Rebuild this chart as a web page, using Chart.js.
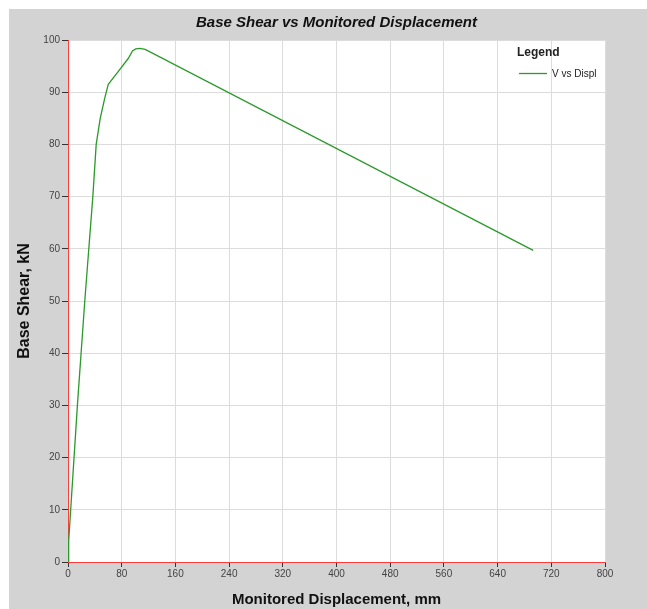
<!DOCTYPE html>
<html>
<head>
<meta charset="utf-8">
<script src="https://cdn.jsdelivr.net/npm/chart.js@4"></script>
<style>
  html, body { margin: 0; padding: 0; background: #fff; }
  canvas { display: block; }
</style>
</head>
<body>
<canvas id="pushover-chart" width="647" height="609"></canvas>
<script>
// Pushover curve: base shear vs monitored displacement
const dispValues = [0, 1, 4, 9, 14, 19.5, 25, 31, 37, 42, 48, 55, 60, 75, 90, 96, 101, 107, 115, 693];
const shearValues = [0, 4, 10, 20, 30, 40, 50, 60, 70, 80, 85, 89, 91.5, 94, 96.5, 97.9, 98.3, 98.4, 98.2, 59.7];
const xTicks = [0, 80, 160, 240, 320, 400, 480, 560, 640, 720, 800];
const yTicks = [0, 10, 20, 30, 40, 50, 60, 70, 80, 90, 100];

const seriesLabel = 'V vs Displ';
const titleText = 'Base Shear vs Monitored Displacement';
const xTitle = 'Monitored Displacement, mm';
const yTitle = 'Base Shear, kN';

const FONT = '"Liberation Sans", Arial, sans-serif';
const LINE_GREEN = '#2a9a2a';

const points = dispValues.map((x, i) => ({ x, y: shearValues[i] }));

// gray frame + white plot area + title centred over the plot
const backdrop = {
  id: 'backdrop',
  beforeDraw(chart) {
    const { ctx, chartArea: a } = chart;
    ctx.save();
    ctx.fillStyle = '#fff';
    ctx.fillRect(0, 0, chart.width, chart.height);
    ctx.fillStyle = '#d3d3d3';
    ctx.fillRect(9, 9, chart.width - 9, chart.height - 9);
    ctx.fillStyle = '#fff';
    ctx.fillRect(a.left, a.top, a.right - a.left, a.bottom - a.top);

    ctx.fillStyle = '#111';
    ctx.font = 'italic bold 15px ' + FONT;
    ctx.textAlign = 'center';
    ctx.textBaseline = 'middle';
    ctx.fillText(titleText, (a.left + a.right) / 2, 22.5);
    ctx.restore();
  }
};

// legend drawn inside the plot, top right
const innerLegend = {
  id: 'innerLegend',
  afterDatasetsDraw(chart) {
    const { ctx } = chart;
    ctx.save();
    ctx.fillStyle = '#222';
    ctx.textBaseline = 'middle';
    ctx.textAlign = 'left';
    ctx.font = 'bold 12px ' + FONT;
    ctx.fillText('Legend', 517, 53);
    ctx.strokeStyle = LINE_GREEN;
    ctx.lineWidth = 1.3;
    ctx.beginPath();
    ctx.moveTo(519, 73.5);
    ctx.lineTo(547, 73.5);
    ctx.stroke();
    ctx.font = '10px ' + FONT;
    ctx.fillText(seriesLabel, 552, 74);
    ctx.restore();
  }
};

new Chart(document.getElementById('pushover-chart'), {
  type: 'line',
  data: {
    datasets: [{
      label: seriesLabel,
      data: points,
      borderColor: LINE_GREEN,
      borderWidth: 1.3,
      pointRadius: 0,
      fill: false,
      tension: 0
    }]
  },
  options: {
    responsive: false,
    animation: false,
    layout: { padding: { top: 40, left: 9, right: 42, bottom: 0 } },
    plugins: {
      legend: { display: false },
      tooltip: { enabled: false },
      title: { display: false }
    },
    scales: {
      x: {
        type: 'linear',
        min: 0,
        max: 800,
        afterFit(scale) { scale.height = 47; },
        afterBuildTicks(scale) { scale.ticks = xTicks.map(v => ({ value: v })); },
        grid: { color: '#dcdcdc', tickColor: '#333', tickLength: 5 },
        border: { color: '#ff3b3b', width: 1 },
        ticks: {
          color: '#444',
          padding: 1,
          maxRotation: 0,
          font: { family: FONT, size: 10 }
        },
        title: {
          display: true,
          text: xTitle,
          color: '#111',
          padding: 0,
          font: { family: FONT, size: 15, weight: 'bold' }
        }
      },
      y: {
        type: 'linear',
        min: 0,
        max: 100,
        afterFit(scale) { scale.width = 59; },
        afterBuildTicks(scale) { scale.ticks = yTicks.map(v => ({ value: v })); },
        grid: { color: '#dcdcdc', tickColor: '#333', tickLength: 6 },
        border: { color: '#ff3b3b', width: 1 },
        ticks: {
          color: '#444',
          padding: 2,
          font: { family: FONT, size: 10 }
        },
        title: {
          display: true,
          text: yTitle,
          color: '#111',
          padding: { top: 6, bottom: 0 },
          font: { family: FONT, size: 16, weight: 'bold' }
        }
      }
    }
  },
  plugins: [backdrop, innerLegend]
});
</script>
</body>
</html>
